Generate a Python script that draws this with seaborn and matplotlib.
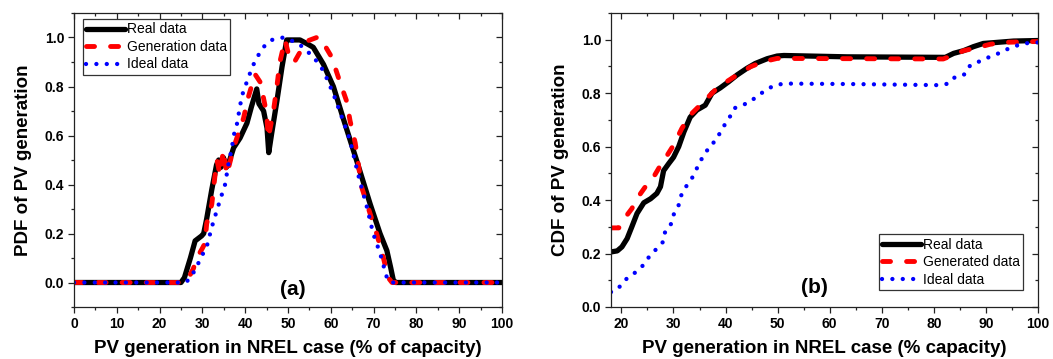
import matplotlib
matplotlib.use("Agg")
import matplotlib.pyplot as plt
from matplotlib.ticker import MultipleLocator
import seaborn as sns
import pandas as pd

# ---------------- data ----------------
pdf_real_x = [0, 25.0, 25.8, 26.5, 27.2, 28.3, 29.8, 30.3, 31.0, 32.2, 33.3, 33.8, 34.3, 34.9, 35.6, 36.2,
              37.3, 38.8, 40.4, 41.5, 42.7, 43.2, 44.3, 45.1, 45.5, 46.2, 47.4, 48.6, 49.7, 51.3, 52.8,
              54.4, 55.9, 58.3, 60.6, 62.9, 66.0, 69.2, 71.5, 73.1, 74.0, 74.6, 75.2, 100]
pdf_real_y = [0, 0, 0.02, 0.06, 0.10, 0.17, 0.19, 0.20, 0.26, 0.38, 0.48, 0.50, 0.47, 0.51, 0.47, 0.49,
              0.55, 0.59, 0.65, 0.72, 0.79, 0.73, 0.70, 0.63, 0.53, 0.61, 0.74, 0.88, 0.99, 0.99, 0.99,
              0.975, 0.96, 0.89, 0.80, 0.67, 0.50, 0.32, 0.20, 0.13, 0.06, 0.01, 0, 0]

pdf_gen_x = [0, 25.0, 26.5, 27.9, 28.7, 30.0, 30.6, 31.0, 32.2, 32.9, 33.4, 34.1, 34.9, 35.7, 37.3, 38.8,
             39.6, 40.7, 42.3, 43.8, 44.2, 45.0, 45.4, 46.6, 47.4, 48.1, 49.3, 50.5, 51.5, 52.8, 54.7,
             56.7, 57.5, 60.2, 62.1, 63.7, 64.5, 65.7, 67.2, 69.2, 70.7, 72.3, 73.4, 74.3, 100]
pdf_gen_y = [0, 0, 0.01, 0.057, 0.10, 0.14, 0.16, 0.24, 0.32, 0.43, 0.50, 0.44, 0.54, 0.44, 0.55, 0.63,
             0.67, 0.755, 0.85, 0.81, 0.76, 0.69, 0.59, 0.70, 0.80, 0.90, 0.99, 0.905, 0.90, 0.94, 0.987,
             1.0, 1.0, 0.92, 0.82, 0.74, 0.66, 0.57, 0.39, 0.28, 0.20, 0.10, 0.02, 0, 0]

pdf_ideal_x = [0, 26.0, 26.7, 27.9, 29.0, 30.2, 31.0, 32.2, 32.9, 34.1, 35.3, 36.1, 36.9, 37.3, 38.0,
               38.4, 39.2, 40.0, 40.8, 41.5, 42.3, 43.5, 44.7, 46.2, 48.9, 50.9, 52.8, 54.4, 56.4, 58.3,
               60.6, 62.9, 64.5, 66.4, 68.4, 69.9, 71.5, 73.1, 73.8, 100]
pdf_ideal_y = [0, 0, 0.01, 0.04, 0.077, 0.12, 0.145, 0.226, 0.267, 0.335, 0.40, 0.485, 0.55, 0.60, 0.64,
               0.68, 0.76, 0.80, 0.84, 0.87, 0.905, 0.94, 0.97, 0.99, 1.0, 0.987, 0.97, 0.946, 0.91, 0.864,
               0.77, 0.66, 0.58, 0.44, 0.31, 0.20, 0.12, 0.02, 0, 0]

cdf_real_x = [18, 19.2, 20.1, 21.1, 22.0, 23.0, 24.3, 25.6, 26.8, 27.5, 28.1, 29.1, 30.0, 31.0, 32.0,
              33.2, 34.5, 36.1, 37.4, 39.0, 40.6, 42.2, 44.1, 45.7, 48.0, 49.9, 51.2, 63.3, 82.2, 83.8,
              85.7, 87.6, 89.5, 92.1, 95.3, 100]
cdf_real_y = [0.206, 0.21, 0.225, 0.256, 0.30, 0.35, 0.39, 0.405, 0.425, 0.45, 0.51, 0.537, 0.56, 0.60,
              0.655, 0.71, 0.737, 0.755, 0.80, 0.82, 0.843, 0.868, 0.893, 0.911, 0.929, 0.939, 0.941,
              0.936, 0.934, 0.949, 0.959, 0.974, 0.986, 0.99, 0.995, 0.997]

cdf_gen_x = [18, 19.5, 20.8, 22.0, 23.0, 24.6, 26.2, 27.5, 28.8, 30.0, 31.6, 33.2, 34.8, 36.4, 38.3,
             40.2, 42.2, 44.8, 47.3, 49.9, 81.8, 83.8, 85.7, 88.3, 90.8, 93.4, 98.5, 100]
cdf_gen_y = [0.296, 0.296, 0.337, 0.368, 0.406, 0.45, 0.487, 0.53, 0.568, 0.605, 0.668, 0.718, 0.749,
             0.78, 0.818, 0.843, 0.868, 0.899, 0.918, 0.93, 0.928, 0.943, 0.959, 0.97, 0.983, 0.99,
             0.993, 0.993]

cdf_ideal_x = [18, 19.3, 20.6, 22.0, 23.6, 24.6, 25.6, 26.8, 28.1, 28.4, 29.7, 30.1, 31.1, 31.5, 32.5,
               33.6, 34.3, 35.0, 36.1, 36.9, 38.2, 39.0, 40.0, 40.9, 41.6, 43.2, 44.8, 46.0, 47.6, 49.2,
               51.2, 65.0, 81.2, 82.8, 84.1, 86.0, 87.0, 88.9, 90.5, 92.1, 93.4, 95.3, 97.2, 100]
cdf_ideal_y = [0.056, 0.067, 0.10, 0.119, 0.144, 0.166, 0.197, 0.218, 0.246, 0.283, 0.315, 0.35, 0.385,
               0.418, 0.453, 0.484, 0.51, 0.543, 0.572, 0.603, 0.623, 0.655, 0.687, 0.714, 0.743, 0.755,
               0.768, 0.789, 0.809, 0.828, 0.836, 0.834, 0.83, 0.836, 0.861, 0.871, 0.905, 0.92, 0.934,
               0.946, 0.959, 0.974, 0.986, 0.99]

labels_a = ["Real data", "Generation data", "Ideal data"]
labels_b = ["Real data", "Generated data", "Ideal data"]

# ---------------- style ----------------
sns.set_theme(style="white")
plt.rcParams["font.family"] = ["Liberation Sans", "DejaVu Sans"]
plt.rcParams["axes.edgecolor"] = "#222222"
plt.rcParams["axes.linewidth"] = 0.9
plt.rcParams["text.color"] = "black"
plt.rcParams["axes.labelcolor"] = "black"
plt.rcParams["xtick.color"] = "#222222"
plt.rcParams["ytick.color"] = "#222222"
plt.rcParams["xtick.labelcolor"] = "black"
plt.rcParams["ytick.labelcolor"] = "black"

styles = [
    dict(color="black", lw=3.8, ls="-"),
    dict(color="#ff0000", lw=3.5, ls=(0, (1.65, 3.3)), dash_capstyle="round"),
    dict(color="#0000ff", lw=3.1, ls=(0, (0.01, 2.4)), dash_capstyle="round"),
]

fig = plt.figure(figsize=(10.53, 3.59), dpi=100)
ax1 = fig.add_axes([74 / 1053, 1 - 307 / 359, 428 / 1053, 294 / 359])
ax2 = fig.add_axes([611 / 1053, 1 - 307 / 359, 427 / 1053, 294 / 359])


def draw(ax, series, labels):
    for (x, y), lab, st in zip(series, labels, styles):
        df = pd.DataFrame({"x": x, "y": y})
        kw = {k: v for k, v in st.items() if k not in ("color", "lw", "ls")}
        sns.lineplot(data=df, x="x", y="y", ax=ax, sort=False, estimator=None,
                     color=st["color"], linewidth=st["lw"], linestyle=st["ls"], label=lab, **kw)


draw(ax1, [(pdf_real_x, pdf_real_y), (pdf_gen_x, pdf_gen_y), (pdf_ideal_x, pdf_ideal_y)], labels_a)
draw(ax2, [(cdf_real_x, cdf_real_y), (cdf_gen_x, cdf_gen_y), (cdf_ideal_x, cdf_ideal_y)], labels_b)

ax1.set_xlim(0, 100)
ax1.set_ylim(-0.1, 1.1)
ax2.set_xlim(18, 100)
ax2.set_ylim(0, 1.1)

lab_font = dict(fontsize=13.5, fontweight="bold", color="black")
ax1.set_xlabel("PV generation in NREL case (% of capacity)", labelpad=7, **lab_font)
ax1.set_ylabel("PDF of PV generation", labelpad=9, **lab_font)
ax2.set_xlabel("PV generation in NREL case (% capacity)", labelpad=7, **lab_font)
ax2.set_ylabel("CDF of PV generation", labelpad=9, **lab_font)

for ax in (ax1, ax2):
    ax.xaxis.set_major_locator(MultipleLocator(10))
    ax.xaxis.set_minor_locator(MultipleLocator(5))
    ax.yaxis.set_major_locator(MultipleLocator(0.2))
    ax.yaxis.set_minor_locator(MultipleLocator(0.1))
    ax.yaxis.set_major_formatter(plt.FuncFormatter(lambda v, p: f"{v:.1f}"))
    ax.tick_params(which="major", direction="out", length=4.5, width=0.9, colors="#222222",
                   labelcolor="black", labelsize=10, pad=2.5, bottom=True, left=True)
    ax.tick_params(which="minor", direction="out", length=2.5, width=0.9, colors="#222222",
                   bottom=True, left=True)
    for t in ax.get_xticklabels() + ax.get_yticklabels():
        t.set_fontweight("bold")
    # mirrored ticks on top / right pointing into the plot (Origin style)
    top = ax.secondary_xaxis("top")
    top.xaxis.set_major_locator(MultipleLocator(10))
    top.xaxis.set_minor_locator(MultipleLocator(5))
    top.tick_params(which="major", direction="in", length=4.5, width=0.9, colors="#222222", labeltop=False)
    top.tick_params(which="minor", direction="in", length=2.5, width=0.9, colors="#222222")
    top.spines["top"].set_visible(False)
    right = ax.secondary_yaxis("right")
    right.yaxis.set_major_locator(MultipleLocator(0.2))
    right.yaxis.set_minor_locator(MultipleLocator(0.1))
    right.tick_params(which="major", direction="in", length=4.5, width=0.9, colors="#222222", labelright=False)
    right.tick_params(which="minor", direction="in", length=2.5, width=0.9, colors="#222222")
    right.spines["right"].set_visible(False)

leg_kw = dict(fontsize=10, frameon=True, fancybox=False, framealpha=1, edgecolor="#333333",
              handlelength=2.8, handletextpad=0.1, labelspacing=0.25, borderpad=0.25,
              borderaxespad=0.0, labelcolor="black")
l1 = ax1.legend(loc="upper left", bbox_to_anchor=(9 / 428, 1 - 6 / 294), **leg_kw)
l2 = ax2.legend(loc="lower right", bbox_to_anchor=(1 - 15 / 427, 17 / 294), **leg_kw)
for l in (l1, l2):
    l.get_frame().set_linewidth(0.9)

ax1.text(51.2, -0.03, "(a)", fontsize=15, fontweight="bold", ha="center", va="center", color="black")
ax2.text(57.0, 0.074, "(b)", fontsize=15, fontweight="bold", ha="center", va="center", color="black")

fig.savefig("out.png", dpi=100)
